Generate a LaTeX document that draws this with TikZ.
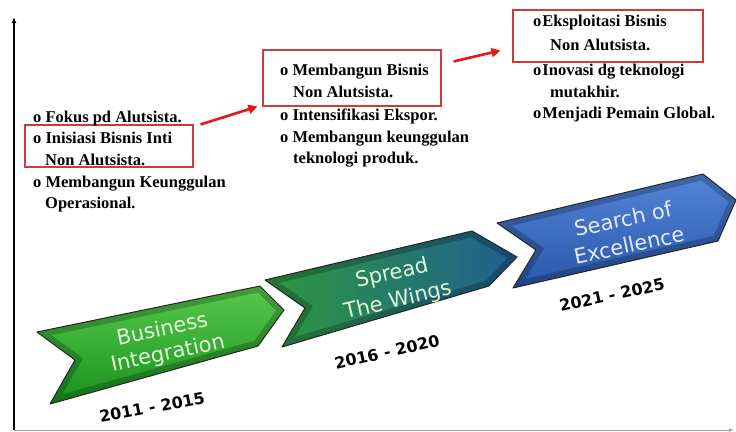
\documentclass[tikz,border=0pt]{standalone}
\usepackage{fontspec}
\setmainfont{Liberation Serif}
\newfontfamily\chevfont{DejaVu Sans}
\usetikzlibrary{arrows.meta,calc}
\definecolor{boxred}{HTML}{D03A3A}
\definecolor{arrred}{HTML}{E8161B}
\definecolor{gA}{HTML}{5CCB4F}
\definecolor{gAd}{HTML}{158F1C}
\definecolor{gB}{HTML}{2E9A3C}
\definecolor{bB}{HTML}{1F5E92}
\definecolor{bC}{HTML}{5486DA}
\definecolor{bCd}{HTML}{2856A8}
\definecolor{txtA}{HTML}{E2F6DA}
\definecolor{txtC}{HTML}{E2ECFA}
\tikzset{
  item/.style={anchor=base west, inner sep=0pt, font=\fontsize{16.5}{20}\selectfont\bfseries},
  redbox/.style={draw=boxred, line width=1.1pt, inner sep=0pt, rectangle},
  redarrow/.style={draw=arrred, line width=2.6pt, -{Triangle[length=9pt,width=9pt]}},
  chevtext/.style={inner sep=0pt, font=\chevfont\fontsize{21}{24}\selectfont},
  yeartext/.style={font=\chevfont\fontsize{16}{18}\selectfont\bfseries, text=black},
  axis/.style={line width=1.3pt, -{Latex[length=6pt,width=5pt]}},
  rim/.style={line width=12pt, draw=black, opacity=0.22},
  outline/.style={draw=black!85, line width=1pt, line join=round}
}
\begin{document}
\begin{tikzpicture}[x=1pt,y=-1pt]
\useasboundingbox (0,0) rectangle (736,431);
\fill[white] (0,0) rectangle (736,431);

% axes
\coordinate (orig) at (14,430);
\coordinate (ytop) at (14,17);
\coordinate (xend) at (734,430);
\draw[axis] (orig) -- (ytop);
\draw[line width=0.9pt, black!35, -{Latex[length=5pt,width=4pt]}] (orig) -- (xend);

% chevron 1
\def\chevA{(37,332) -- (75,360) -- (50,404) -- (258,346) -- (284,310) -- (260,286) -- cycle}
\begin{scope}
\clip \chevA;
\shade[top color=gA, bottom color=gAd] (30,280) rectangle (290,410);
\draw[rim] \chevA;
\end{scope}
\draw[outline] \chevA;

% chevron 2
\def\chevB{(265,280) -- (305,308) -- (282,347) -- (489,286) -- (517,257) -- (472,231) -- cycle}
\begin{scope}
\clip \chevB;
\shade[left color=gB, right color=bB] (260,225) rectangle (520,350);
\draw[rim] \chevB;
\end{scope}
\draw[outline] \chevB;

% chevron 3
\def\chevC{(497,223) -- (536,250) -- (513,288) -- (718,241) -- (736,200) -- (703,174) -- cycle}
\begin{scope}
\clip \chevC;
\shade[top color=bC, bottom color=bCd] (490,170) rectangle (740,292);
\draw[rim] \chevC;
\end{scope}
\draw[outline] \chevC;

% chevron labels
\node[chevtext, text=txtA, rotate=12] (c1a) at (162,328) {Business};
\node[chevtext, text=txtA, rotate=12] (c1b) at (168,354) {Integration};
\node[chevtext, text=txtA, rotate=13] (c2a) at (392,274) {Spread};
\node[chevtext, text=txtA, rotate=13] (c2b) at (398,301) {The Wings};
\node[chevtext, text=txtC, rotate=12] (c3a) at (623,219) {Search of};
\node[chevtext, text=txtC, rotate=12] (c3b) at (629,245) {Excellence};

% years
\node[yeartext, rotate=10.5] (y1) at (152,407) {2011 - 2015};
\node[yeartext, rotate=12.5] (y2) at (387,352) {2016 - 2020};
\node[yeartext, rotate=12] (y3) at (612,295) {2021 - 2025};

% red boxes
\node[redbox, minimum width=168pt, minimum height=42pt] (b1) at (109,146) {};
\node[redbox, minimum width=178pt, minimum height=56pt] (b2) at (352,78) {};
\node[redbox, minimum width=190pt, minimum height=52pt] (b3) at (608,36) {};

% column 1
\node[item] (a1) at (33,122) {o Fokus pd Alutsista.};
\node[item] (a2) at (33,143) {o Inisiasi Bisnis Inti};
\node[item] (a3) at (45,165) {Non Alutsista.};
\node[item] (a4) at (33,187) {o Membangun Keunggulan};
\node[item] (a5) at (45,208) {Operasional.};

% column 2
\node[item] (m1) at (280,75) {o Membangun Bisnis};
\node[item] (m2) at (293,97) {Non Alutsista.};
\node[item] (m3) at (280,120) {o Intensifikasi Ekspor.};
\node[item] (m4) at (280,142) {o Membangun keunggulan};
\node[item] (m5) at (293,163) {teknologi produk.};

% column 3
\node[item] (e1) at (533,27) {o\hspace{1pt}Eksploitasi Bisnis};
\node[item] (e2) at (550,50) {Non Alutsista.};
\node[item] (e3) at (533,75) {o\hspace{1pt}Inovasi dg teknologi};
\node[item] (e4) at (550,97) {mutakhir.};
\node[item] (e5) at (533,118) {o\hspace{1pt}Menjadi Pemain Global.};

% red arrows
\draw[redarrow] ([xshift=7pt]b1.north east) -- ([xshift=-5pt]b2.south west);
\draw[redarrow] ([xshift=12pt,yshift=-12pt]b2.north east) -- ([xshift=-12pt,yshift=12pt]b3.south west);
\end{tikzpicture}
\end{document}
